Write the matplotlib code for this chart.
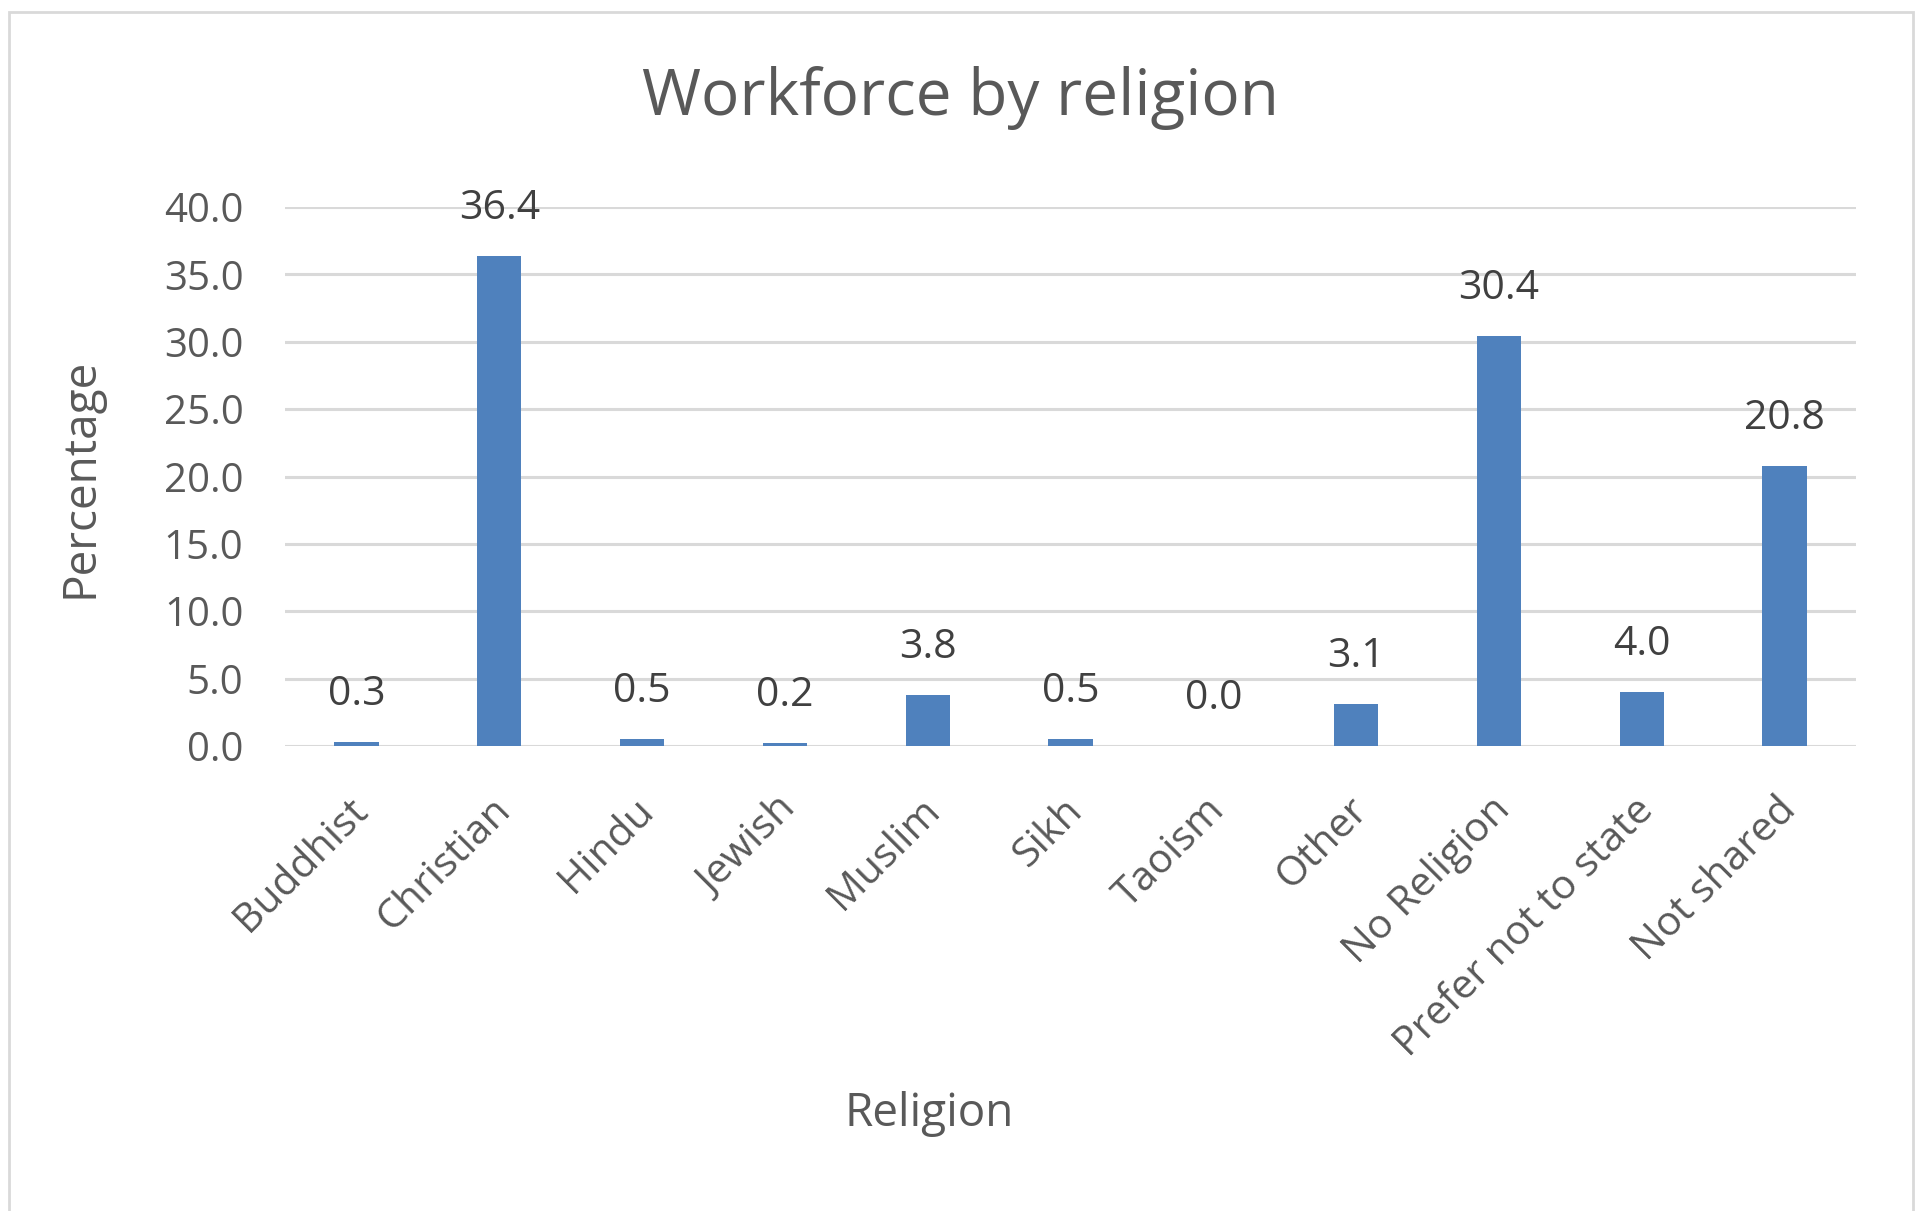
import numpy as np
import matplotlib
matplotlib.use("Agg")
import matplotlib.pyplot as plt
import matplotlib.transforms as mtransforms
from matplotlib.patches import Rectangle

# Data
religions = ["Buddhist", "Christian", "Hindu", "Jewish", "Muslim", "Sikh",
             "Taoism", "Other", "No Religion", "Prefer not to state", "Not shared"]
percentages = [0.3, 36.4, 0.5, 0.2, 3.8, 0.5, 0.0, 3.1, 30.4, 4.0, 20.8]
y_ticks = [0, 5, 10, 15, 20, 25, 30, 35, 40]

plt.rcParams['font.family'] = ['Open Sans', 'DejaVu Sans']

W, H = 1920, 1211
fig = plt.figure(figsize=(W / 100, H / 100), dpi=100)

# chart frame (Excel style border)
fig.patches.append(Rectangle((9 / W, -0.01), (1913 - 9) / W, 1 - 12 / H + 0.01,
                             transform=fig.transFigure, fill=False,
                             edgecolor='#d9d9d9', linewidth=2))

ax = fig.add_axes([285 / W, 1 - 746 / H, (1856 - 285) / W, (746 - 207) / H])

x = np.arange(len(religions))
bars = ax.bar(x, percentages, width=0.31, color='#4f81bd', zorder=3)

ax.set_xlim(-0.5, len(religions) - 0.5)
ax.set_ylim(0, 40)
ax.set_yticks(y_ticks)
ax.set_yticklabels([f'{v:.1f}' for v in y_ticks])
ax.grid(axis='y', color='#d9d9d9', linewidth=2.2, zorder=0)
for s in ax.spines.values():
    s.set_visible(False)
ax.tick_params(axis='both', length=0, colors='#595959')
ax.tick_params(axis='y', pad=30, labelsize=29)

ax.set_xticks(x)
ax.set_xticklabels(religions, rotation=45, ha='right', va='center',
                   rotation_mode='anchor')
ax.tick_params(axis='x', pad=42, labelsize=29.5)
offset = mtransforms.ScaledTranslation(6 / 100, 0, fig.dpi_scale_trans)
for lab in ax.get_xticklabels():
    lab.set_transform(lab.get_transform() + offset)

# value labels
for xi, v in zip(x, percentages):
    ax.annotate(f'{v:.1f}', (xi, v), xytext=(0, 34), textcoords='offset points',
                ha='center', va='center', fontsize=29.5, color='#404040')

fig.text(961 / W, 1 - 98 / H, 'Workforce by religion', ha='center', va='center',
         fontsize=46, color='#595959')
fig.text(80 / W, 1 - 478 / H, 'Percentage', ha='center', va='center',
         rotation=90, fontsize=33, color='#595959')
fig.text(929 / W, 1 - 1114 / H, 'Religion', ha='center', va='center',
         fontsize=33, color='#595959')

fig.savefig('out.png', dpi=100, facecolor='white')
